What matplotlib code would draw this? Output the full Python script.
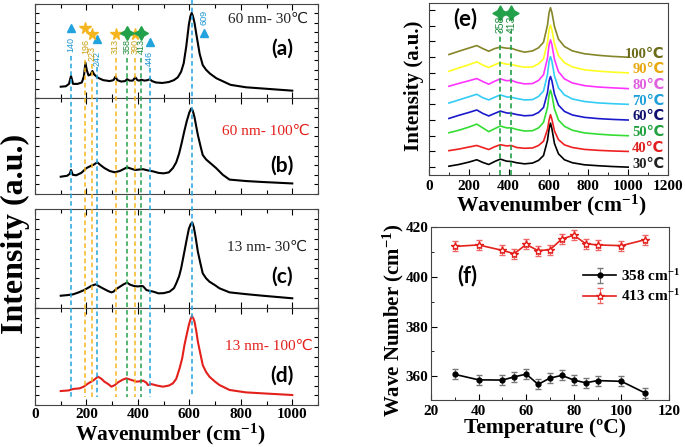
import matplotlib
matplotlib.use("Agg")
import matplotlib.pyplot as plt
from matplotlib.ticker import MultipleLocator, NullFormatter
from matplotlib.transforms import blended_transform_factory
from matplotlib.lines import Line2D

plt.rcParams['font.family'] = ['Liberation Serif', 'DejaVu Sans']
plt.rcParams['mathtext.default'] = 'regular'

# ---- left column spectra (a)-(d), intensity in arbitrary units ----
a_wn = [100, 120, 132, 140, 148, 165, 182, 190, 196, 201, 208, 216, 223, 230, 245, 265, 290, 305, 313,
        320, 335, 350, 358, 368, 380, 390, 398, 405, 413, 425, 438, 446, 455, 470, 495, 520, 540, 555,
        568, 578, 588, 598, 604, 609, 614, 620, 627, 640, 652, 665, 680, 705, 760, 820, 890, 1000]
a_int = [0.12, 0.125, 0.15, 0.234, 0.15, 0.15, 0.165, 0.23, 0.376, 0.30, 0.24, 0.25, 0.287, 0.25, 0.215,
         0.19, 0.18, 0.19, 0.227, 0.19, 0.175, 0.18, 0.20, 0.185, 0.185, 0.22, 0.19, 0.185, 0.195, 0.185,
         0.19, 0.20, 0.18, 0.165, 0.16, 0.17, 0.19, 0.22, 0.28, 0.37, 0.55, 0.78, 0.87, 0.905, 0.87, 0.80,
         0.68, 0.47, 0.35, 0.30, 0.26, 0.21, 0.14, 0.114, 0.10, 0.078]

b_wn = [100, 125, 135, 140, 147, 160, 180, 200, 215, 228, 242, 255, 270, 290, 310, 330, 345, 358, 372,
        390, 405, 420, 440, 460, 480, 500, 520, 536, 549, 560, 570, 580, 590, 600, 607, 613, 620, 627,
        633, 645, 652, 665, 678, 704, 730, 756, 820, 885, 1000]
b_int = [0.18, 0.19, 0.21, 0.25, 0.20, 0.195, 0.22, 0.27, 0.29, 0.305, 0.33, 0.30, 0.27, 0.24, 0.226,
         0.24, 0.26, 0.278, 0.265, 0.25, 0.255, 0.258, 0.245, 0.235, 0.22, 0.215, 0.225, 0.27, 0.33,
         0.42, 0.53, 0.65, 0.76, 0.85, 0.89, 0.87, 0.80, 0.70, 0.615, 0.48, 0.406, 0.36, 0.33, 0.27,
         0.20, 0.15, 0.135, 0.125, 0.11]

c_wn = [100, 125, 148, 170, 190, 207, 220, 236, 252, 270, 285, 297, 305, 315, 330, 345, 358, 370, 385,
        400, 413, 420, 433, 446, 460, 480, 500, 523, 540, 549, 560, 568, 580, 588, 598, 605, 611, 617,
        624, 633, 643, 652, 665, 678, 700, 717, 756, 820, 885, 1000]
c_int = [0.124, 0.13, 0.138, 0.158, 0.18, 0.205, 0.225, 0.239, 0.215, 0.19, 0.17, 0.158, 0.165, 0.19,
         0.215, 0.24, 0.256, 0.235, 0.222, 0.218, 0.222, 0.22, 0.182, 0.172, 0.165, 0.148, 0.15, 0.165,
         0.20, 0.249, 0.32, 0.40, 0.56, 0.67, 0.80, 0.845, 0.865, 0.82, 0.72, 0.569, 0.45, 0.35, 0.30,
         0.266, 0.23, 0.199, 0.158, 0.14, 0.124, 0.098]

d_wn = [100, 130, 148, 174, 190, 207, 225, 245, 258, 270, 285, 297, 310, 323, 340, 355, 370, 394, 410,
        420, 433, 439, 452, 475, 497, 520, 536, 549, 562, 572, 581, 590, 598, 604, 610, 616, 620, 627,
        633, 645, 652, 665, 678, 700, 717, 756, 820, 885, 1000]
d_int = [0.144, 0.15, 0.165, 0.172, 0.19, 0.223, 0.25, 0.292, 0.27, 0.24, 0.215, 0.189, 0.205, 0.234,
         0.26, 0.275, 0.262, 0.241, 0.245, 0.251, 0.23, 0.206, 0.216, 0.20, 0.189, 0.20, 0.223, 0.27,
         0.378, 0.48, 0.619, 0.73, 0.825, 0.88, 0.917, 0.89, 0.859, 0.76, 0.653, 0.50, 0.412, 0.34,
         0.292, 0.24, 0.206, 0.155, 0.13, 0.12, 0.103]

panel_tags = ["(a)", "(b)", "(c)", "(d)"]
panel_notes = ["60 nm- 30℃", "60 nm- 100℃", "13 nm- 30℃", "13 nm- 100℃"]

blue_peaks = [140, 242, 446, 609]
orange_peaks = [196, 223, 313, 390]
green_peaks = [358, 413]

# ---- (e) temperature series ----
e_wn = [100, 150, 200, 240, 270, 300, 330, 358, 390, 413, 440, 480, 520, 550, 575, 595, 603, 610, 617,
        630, 650, 680, 720, 780, 850, 920, 1000]
e_temps = ["30℃", "40℃", "50℃", "60℃", "70℃", "80℃", "90℃", "100℃"]
t30 = [0.06, 0.17, 0.32, 0.47, 0.30, 0.17, 0.36, 0.51, 0.38, 0.36, 0.28, 0.21, 0.26, 0.43, 0.74, 1.70, 2.45, 2.80, 2.45, 1.50, 0.85, 0.47, 0.28, 0.15, 0.09, 0.04, 0.0]
t40 = [0.05, 0.15, 0.28, 0.38, 0.25, 0.12, 0.30, 0.43, 0.35, 0.38, 0.25, 0.20, 0.22, 0.38, 0.65, 1.40, 2.00, 2.34, 2.05, 1.30, 0.75, 0.42, 0.25, 0.13, 0.07, 0.03, 0.0]
t50 = [0.19, 0.35, 0.55, 0.74, 0.50, 0.26, 0.45, 0.62, 0.50, 0.50, 0.40, 0.30, 0.32, 0.50, 0.85, 1.80, 2.60, 2.90, 2.60, 1.70, 1.00, 0.60, 0.35, 0.18, 0.10, 0.04, 0.0]
t60 = [0.10, 0.30, 0.48, 0.64, 0.42, 0.26, 0.42, 0.57, 0.45, 0.43, 0.35, 0.27, 0.30, 0.48, 0.80, 1.75, 2.50, 2.77, 2.50, 1.65, 0.95, 0.55, 0.32, 0.17, 0.09, 0.04, 0.0]
t70 = [0.08, 0.28, 0.48, 0.64, 0.42, 0.28, 0.45, 0.60, 0.47, 0.45, 0.37, 0.28, 0.30, 0.50, 0.85, 1.90, 2.75, 3.04, 2.75, 1.80, 1.05, 0.60, 0.34, 0.18, 0.09, 0.04, 0.0]
t80 = [0.15, 0.33, 0.50, 0.64, 0.45, 0.28, 0.47, 0.62, 0.50, 0.53, 0.40, 0.30, 0.32, 0.52, 0.88, 1.95, 2.80, 3.10, 2.80, 1.85, 1.08, 0.62, 0.36, 0.19, 0.10, 0.05, 0.0]
t90 = [0.10, 0.32, 0.52, 0.70, 0.50, 0.34, 0.52, 0.66, 0.55, 0.55, 0.45, 0.36, 0.38, 0.58, 0.90, 1.95, 2.75, 3.04, 2.75, 1.85, 1.10, 0.65, 0.38, 0.20, 0.11, 0.05, 0.0]
t100 = [0.17, 0.38, 0.58, 0.74, 0.55, 0.38, 0.55, 0.64, 0.57, 0.57, 0.45, 0.32, 0.40, 0.60, 0.95, 2.05, 2.85, 3.15, 2.85, 1.95, 1.15, 0.68, 0.40, 0.22, 0.12, 0.05, 0.0]

# ---- (f) peak position vs temperature ----
temps = [30, 40, 50, 55, 60, 65, 70, 75, 80, 85, 90, 100, 110]
w358 = [360.8, 358.6, 358.5, 359.8, 360.9, 356.8, 359.3, 360.4, 358.5, 357.4, 358.3, 358.0, 353.3]
w413 = [412.2, 412.8, 410.6, 409.3, 413.0, 410.5, 410.9, 415.2, 416.7, 413.3, 412.8, 412.5, 414.9]
err358 = [2, 2, 2, 2, 2, 2, 2, 2, 2, 2, 2, 2, 2]
err413 = [2, 2, 2, 2, 2, 2, 2, 2, 2, 2, 2, 2, 2]

BLUE = '#22a3dd'
ORANGE = '#f5b51f'
GREEN = '#23a04a'
RED = '#e3201b'
NARROW = ['Liberation Sans Narrow', 'Liberation Sans', 'DejaVu Sans']

fig = plt.figure(figsize=(6.85, 4.47), dpi=100)
W, H = 685.0, 447.0

def px_box(x0, y_top, x1, y_bot):
    return [x0 / W, 1 - y_bot / H, (x1 - x0) / W, (y_bot - y_top) / H]

# left column
boxes = [px_box(35, 4, 318, 98), px_box(35, 98, 318, 194),
         px_box(35, 209, 318, 308), px_box(35, 308, 318, 405)]
spectra = [(a_wn, a_int, 'black'), (b_wn, b_int, 'black'), (c_wn, c_int, 'black'), (d_wn, d_int, RED)]
note_colors = ['#222222', RED, '#222222', RED]
note_pos = [(0.965, 0.84), (0.972, 0.65), (0.961, 0.61), (0.982, 0.60)]
tag_y = [0.52, 0.30, 0.32, 0.30]

left_axes = []
for i in range(4):
    ax = fig.add_axes(boxes[i])
    wn, inten, col = spectra[i]
    ax.plot(wn, inten, color=col, lw=1.5, zorder=3)
    ax.set_xlim(0, 1100)
    ax.set_ylim(0, 1)
    ax.xaxis.set_major_locator(MultipleLocator(200))
    ax.xaxis.set_minor_locator(MultipleLocator(100))
    ax.yaxis.set_major_locator(MultipleLocator(0.1))
    ax.yaxis.set_major_formatter(NullFormatter())
    ax.tick_params(which='both', direction='in', top=True, right=True)
    ax.tick_params(which='major', length=4, width=0.8)
    ax.tick_params(which='minor', length=3, width=0.8)
    ax.tick_params(axis='y', length=3)
    ax.tick_params(axis='x', pad=2)
    if i < 3:
        ax.xaxis.set_major_formatter(NullFormatter())
    else:
        for lab in ax.get_xticklabels():
            lab.set_fontweight('bold')
            lab.set_fontsize(11)
    for sp in ax.spines.values():
        sp.set_color('#444444')
    ax.text(note_pos[i][0], note_pos[i][1], panel_notes[i], transform=ax.transAxes,
            ha='right', va='center', fontsize=11, color=note_colors[i])
    ax.text(0.873, tag_y[i], panel_tags[i], transform=ax.transAxes, ha='center', va='center',
            fontsize=15, fontweight='bold', family='Lato')
    left_axes.append(ax)

ax_a = left_axes[0]
# peak markers and labels in panel (a)
marker_y = {140: 0.745, 196: 0.745, 223: 0.68, 242: 0.624, 313: 0.68, 358: 0.69,
            390: 0.68, 413: 0.69, 446: 0.60, 609: 0.695}
label_y = {140: 0.564, 196: 0.553, 223: 0.47, 242: 0.415, 313: 0.553, 358: 0.553,
           390: 0.553, 413: 0.553, 446: 0.425, 609: 0.856}
line_top = {140: 56, 196: 60, 223: 64, 242: 67, 313: 58, 358: 58, 390: 58, 413: 58, 446: 68, 609: 0}
trans_line = blended_transform_factory(ax_a.transData, fig.transFigure)

groups = [(blue_peaks, BLUE, '#1b95d0', '^', 6), (orange_peaks, ORANGE, '#caa012', '*', 8.5),
          (green_peaks, GREEN, '#1d8a3c', (4, 1, 0), 10)]
for peaks, col, tcol, mk, ms in groups:
    for p in peaks:
        xm = p + 46 if p == 609 else p
        ax_a.plot([xm], [marker_y[p]], marker=mk, ms=ms, color=col, mec=col, ls='none',
                  clip_on=False, zorder=4)
        ax_a.text(xm, label_y[p], str(p), rotation=90, ha='center', va='center',
                  fontsize=6.5, color=tcol, family=NARROW, zorder=4)
        fig.add_artist(Line2D([p, p], [1 - line_top[p] / H, 1 - 397 / H], transform=trans_line,
                              color=col, lw=1.1, ls=(0, (3, 2)), zorder=5))

fig.text(15 / W, 1 - 234 / H, "Intensity (a.u.)", rotation=90, ha='center', va='center',
         fontsize=23, fontweight='bold')
fig.text(170 / W, 1 - 434 / H, "Wavenumber (cm$^{-1}$)", ha='center', va='center',
         fontsize=15.5, fontweight='bold')

# panel (e)
ax_e = fig.add_axes(px_box(429, 3, 668, 175))
e_series = [t30, t40, t50, t60, t70, t80, t90, t100]
e_colors = ['black', '#ee2020', '#33dd33', '#1a1acc', '#33ccf5', '#ff33ff', '#ffff22', '#85852a']
e_text_colors = ['#222222', '#e02020', '#22a040', '#101070', '#20a0d8', '#e060e0', '#e8a810', '#6b6b1a']
for k, series in enumerate(e_series):
    ax_e.plot(e_wn, [v + k for v in series], color=e_colors[k], lw=1.2)
    ax_e.text(0.985, k + 0.2, e_temps[k], transform=ax_e.get_yaxis_transform(), ha='right',
              va='center', fontsize=10.5, fontweight='bold', color=e_text_colors[k])
ax_e.set_xlim(0, 1200)
ax_e.set_ylim(-0.5, 10.45)
ax_e.xaxis.set_major_locator(MultipleLocator(200))
ax_e.xaxis.set_minor_locator(MultipleLocator(100))
ax_e.yaxis.set_major_locator(MultipleLocator(1))
ax_e.yaxis.set_major_formatter(NullFormatter())
ax_e.tick_params(which='both', direction='in')
ax_e.tick_params(which='major', length=4)
ax_e.tick_params(which='minor', length=2.5)
for lab in ax_e.get_xticklabels():
    lab.set_fontweight('bold')
    lab.set_fontsize(11)
for sp in ax_e.spines.values():
    sp.set_color('#444444')
for p in green_peaks:
    ax_e.plot([p, p], [0, 0.84], transform=ax_e.get_xaxis_transform(), color=GREEN, lw=1.2,
              ls=(0, (3, 2)))
    ax_e.plot([p], [0.94], transform=ax_e.get_xaxis_transform(), marker=(4, 1, 0), ms=11,
              color=GREEN, ls='none')
    ax_e.text(p, 0.875, str(p), transform=ax_e.get_xaxis_transform(), rotation=90,
              ha='center', va='center', fontsize=7.5, color='#1d8a3c', family=NARROW)
ax_e.text(0.15, 0.91, "(e)", transform=ax_e.transAxes, ha='center', va='center',
          fontsize=16, fontweight='bold', family='Lato')
fig.text(414 / W, 1 - 86 / H, "Intensity (a.u.)", rotation=90, ha='center', va='center',
         fontsize=15, fontweight='bold')
fig.text(551 / W, 1 - 205 / H, "Wavenumber (cm$^{-1}$)", ha='center', va='center',
         fontsize=15.5, fontweight='bold')

# panel (f)
ax_f = fig.add_axes(px_box(431, 227, 669, 400))
ax_f.errorbar(temps, w358, yerr=err358, color='black', marker='o', ms=3.5, lw=1.2,
              ecolor='#777777', elinewidth=0.8, capsize=2, label='358 cm$^{-1}$')
ax_f.errorbar(temps, w413, yerr=err413, color=RED, marker='*', ms=6, mfc='white', mec=RED,
              lw=1.2, ecolor='#ee6666', elinewidth=0.8, capsize=2, label='413 cm$^{-1}$')
ax_f.set_xlim(20, 120)
ax_f.set_ylim(350.5, 420)
ax_f.xaxis.set_major_locator(MultipleLocator(20))
ax_f.xaxis.set_minor_locator(MultipleLocator(10))
ax_f.yaxis.set_major_locator(MultipleLocator(20))
ax_f.yaxis.set_minor_locator(MultipleLocator(10))
ax_f.tick_params(which='both', direction='in')
ax_f.tick_params(which='major', length=4)
ax_f.tick_params(which='minor', length=2.5)
ax_f.tick_params(axis='y', pad=2)
for lab in ax_f.get_xticklabels() + ax_f.get_yticklabels():
    lab.set_fontweight('bold')
    lab.set_fontsize(11)
for sp in ax_f.spines.values():
    sp.set_color('#444444')
leg = ax_f.legend(loc='center left', bbox_to_anchor=(0.58, 0.66), frameon=False,
                  prop={'weight': 'bold', 'size': 11}, handlelength=2.2, labelspacing=0.3,
                  handletextpad=0.3)
ax_f.text(0.154, 0.72, "(f)", transform=ax_f.transAxes, ha='center', va='center',
          fontsize=16, fontweight='bold', family='Lato')
fig.text(393 / W, 1 - 320 / H, "Wave Number (cm$^{-1}$)", rotation=90, ha='center', va='center',
         fontsize=15, fontweight='bold')
fig.text(545 / W, 1 - 428 / H, "Temperature (ºC)", ha='center', va='center',
         fontsize=15.5, fontweight='bold')

fig.savefig("out.png", dpi=100)
